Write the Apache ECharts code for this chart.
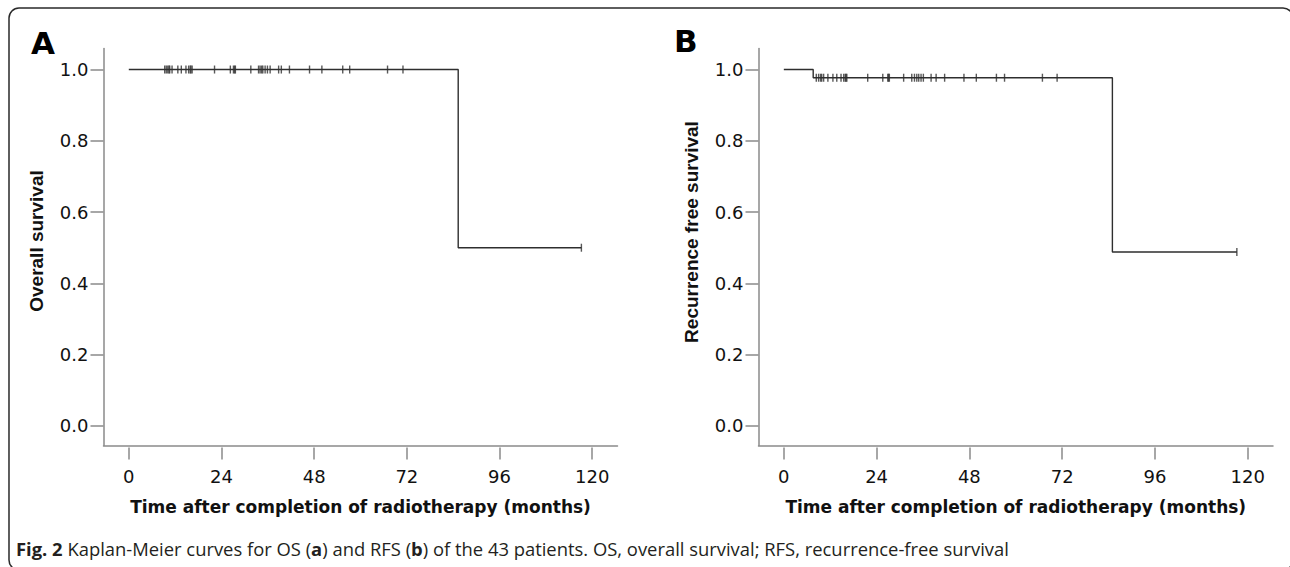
<!DOCTYPE html>
<html>
<head>
<meta charset="utf-8">
<script src="https://cdn.jsdelivr.net/npm/echarts@6/dist/echarts.min.js"></script>
<style>
  html, body { margin: 0; padding: 0; background: #fff; }
  #chart { width: 1290px; height: 567px; }
</style>
</head>
<body>
<div id="chart"></div>
<script>
// ---- data ----
const monthTicks = [0, 24, 48, 72, 96, 120];
const survivalTicks = [0, 0.2, 0.4, 0.6, 0.8, 1.0];

// Panel A: overall survival (Kaplan-Meier steps)
const osStepTimes = [0, 85.3, 117.2];
const osStepSurvival = [1, 0.5, 0.5];
const osCensorTimes = [9.3, 9.7, 10.1, 10.4, 10.6, 11.2, 12.7, 13.6, 14.8, 15.5, 15.9, 16.1, 16.4,
  22.2, 26.3, 27.1, 27.4, 27.6, 31.6, 33.6, 34.0, 34.4, 34.7, 35.3, 35.9, 36.6,
  38.8, 39.5, 41.6, 46.8, 50.0, 55.4, 57.2, 67.0, 71.0, 117.2];

// Panel B: recurrence free survival
const rfsStepTimes = [0, 7.6, 85.0, 117.2];
const rfsStepSurvival = [1, 0.977, 0.488, 0.488];
const rfsCensorTimes = [8.4, 9.0, 9.5, 9.8, 10.3, 11.4, 12.7, 13.7, 14.8, 15.5, 15.9, 16.1, 16.3,
  21.7, 25.6, 26.9, 27.1, 27.3, 31.0, 33.1, 33.8, 34.4, 34.9, 35.5, 36.1,
  38.1, 39.4, 41.6, 46.6, 49.8, 55.0, 57.1, 66.9, 70.7, 117.2];

const yNames = ['Overall survival', 'Recurrence free survival'];
const xName = 'Time after completion of radiotherapy (months)';

// ---- helpers ----
function survivalAt(times, surv, t) {
  let s = surv[0];
  for (let i = 0; i < times.length; i++) if (times[i] <= t) s = surv[i];
  return s;
}
function zip(a, b) { return a.map((v, i) => [v, b[i]]); }

const axisColor = '#8a8a8a';
const lineColor = '#2e2e2e';
const textColor = '#111111';
const xMin = -6.55, xMax = 126.55;
const yMin = -0.055, yMax = 1.059;

function xAxesFor(g) {
  return [
    { gridIndex: g, type: 'value', min: xMin, max: xMax,
      axisLine: { show: true, onZero: false, lineStyle: { color: axisColor, width: 1.5 } },
      axisTick: { show: false }, axisLabel: { show: false }, splitLine: { show: false } },
    { gridIndex: g, type: 'value', min: xMin, max: xMax, position: 'bottom', offset: 2,
      axisLine: { show: false, onZero: false },
      axisTick: { show: true, length: 12, customValues: monthTicks, lineStyle: { color: axisColor, width: 1.5 } },
      axisLabel: { customValues: monthTicks, margin: 20, fontSize: 18, fontFamily: 'DejaVu Sans', color: textColor },
      splitLine: { show: false },
      name: xName, nameLocation: 'middle', nameGap: 51,
      nameTextStyle: { fontFamily: 'DejaVu Sans', fontWeight: 'bold', fontSize: 17, color: textColor } }
  ];
}
function yAxisFor(g, name, shiftUp) {
  return { gridIndex: g, type: 'value', min: yMin, max: yMax,
    axisLine: { show: true, onZero: false, lineStyle: { color: axisColor, width: 1.5 } },
    axisTick: { show: true, length: 13, customValues: survivalTicks, lineStyle: { color: axisColor, width: 1.5 } },
    axisLabel: { customValues: survivalTicks, formatter: v => v.toFixed(1), margin: 15,
      fontSize: 18, fontFamily: 'DejaVu Sans', color: textColor },
    splitLine: { show: false },
    name: name, nameLocation: 'middle', nameGap: 58,
    nameTextStyle: { fontFamily: 'Liberation Sans', fontWeight: 'bold', fontSize: 19, color: textColor,
      padding: [0, 0, 0, shiftUp * 2] } };
}
function seriesFor(g, times, surv, censor) {
  return [
    { type: 'line', xAxisIndex: g * 2, yAxisIndex: g, step: 'end', showSymbol: false, symbol: 'none',
      data: zip(times, surv), lineStyle: { color: lineColor, width: 1.4 }, z: 3 },
    { type: 'scatter', xAxisIndex: g * 2, yAxisIndex: g, symbol: 'rect', symbolSize: [1.4, 8],
      data: censor.map(t => [t, survivalAt(times, surv, t)]),
      itemStyle: { color: lineColor }, z: 4 }
  ];
}

const chart = echarts.init(document.getElementById('chart'), null, { renderer: 'svg' });
chart.setOption({
  animation: false,
  backgroundColor: '#ffffff',
  grid: [
    { left: 103.5, top: 48.5, width: 514, height: 397, containLabel: false, outerBoundsMode: 'none' },
    { left: 758.5, top: 48.5, width: 514.5, height: 397, containLabel: false, outerBoundsMode: 'none' }
  ],
  xAxis: [...xAxesFor(0), ...xAxesFor(1)],
  yAxis: [yAxisFor(0, yNames[0], 6), yAxisFor(1, yNames[1], 15)],
  series: [
    ...seriesFor(0, osStepTimes, osStepSurvival, osCensorTimes),
    ...seriesFor(1, rfsStepTimes, rfsStepSurvival, rfsCensorTimes)
  ],
  graphic: [
    { type: 'rect', shape: { x: 9, y: 8, width: 1284, height: 562, r: 10 },
      style: { fill: 'none', stroke: '#2a2a2a', lineWidth: 1.5 }, silent: true },
    { type: 'text', x: 31, y: 43, style: { text: 'A', fontFamily: 'DejaVu Sans', fontWeight: 'bold',
      fontSize: 31, fill: '#000', verticalAlign: 'middle' } },
    { type: 'text', x: 674, y: 41, style: { text: 'B', fontFamily: 'DejaVu Sans', fontWeight: 'bold',
      fontSize: 31, fill: '#000', verticalAlign: 'middle' } },
    { type: 'text', x: 16, y: 548, style: {
      text: '{b|Fig. 2} Kaplan-Meier curves for OS ({b|a}) and RFS ({b|b}) of the 43 patients. OS, overall survival; RFS, recurrence-free survival',
      fontFamily: 'Open Sans', fontSize: 18.4, fill: '#231f20', verticalAlign: 'middle',
      rich: { b: { fontFamily: 'Open Sans', fontWeight: 'bold', fontSize: 18.4, fill: '#231f20' } } } }
  ]
});
</script>
</body>
</html>
